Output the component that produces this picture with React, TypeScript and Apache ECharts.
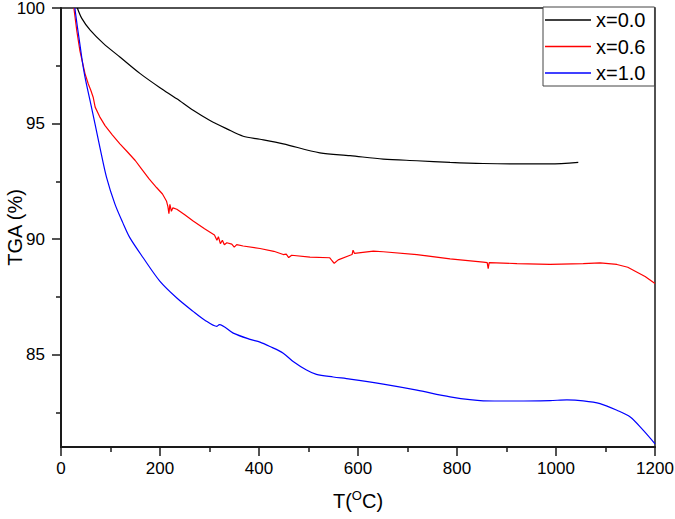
import { useEffect, useRef } from "react";
import * as echarts from "echarts";

const seriesNames = ["x=0.0", "x=0.6", "x=1.0"];
const seriesColors = ["#000000", "#ff0000", "#0000ff"];
const seriesSmooth = [0.3, 0, 0.3];

const yMajorTicks = [85, 90, 95, 100];
const yMinorTicks = [82.5, 87.5, 92.5, 97.5];

const tempBlack = [33, 42, 59, 86, 119, 160, 200, 234, 267, 301, 335, 368, 402, 449, 523, 584, 651, 719, 786, 853, 921, 988, 1045];
const tgaBlack = [100, 99.55, 99.04, 98.46, 97.88, 97.16, 96.55, 96.07, 95.57, 95.13, 94.77, 94.45, 94.32, 94.12, 93.73, 93.61, 93.46, 93.39, 93.32, 93.27, 93.25, 93.25, 93.32];

const tempRed = [26, 32, 38, 48.5, 55, 60, 65, 69, 78, 89, 104, 119, 133, 150, 163, 178, 193, 205, 213, 216, 218, 220, 223, 226, 234, 250, 267, 290, 310, 315, 318, 322, 326, 330, 335, 345, 350, 355, 368, 402, 430, 449, 455, 460, 466, 503, 543, 548, 552, 560, 584, 588, 590, 593, 631, 651, 719, 786, 853, 861, 863, 865, 921, 988, 1055, 1089, 1123, 1145, 1160, 1180, 1200];
const tgaRed = [100, 99.0, 98.17, 97.16, 96.72, 96.45, 96.14, 95.71, 95.3, 94.91, 94.5, 94.12, 93.8, 93.4, 93.03, 92.6, 92.23, 91.95, 91.65, 91.4, 91.1, 91.5, 91.2, 91.35, 91.29, 91.05, 90.78, 90.45, 90.18, 89.95, 90.1, 89.8, 89.95, 89.75, 89.84, 89.78, 89.65, 89.76, 89.7, 89.59, 89.47, 89.33, 89.35, 89.2, 89.3, 89.22, 89.19, 89.05, 88.95, 89.1, 89.3, 89.33, 89.52, 89.38, 89.48, 89.45, 89.33, 89.14, 89.0, 88.98, 88.72, 88.98, 88.94, 88.9, 88.94, 88.97, 88.9, 88.78, 88.61, 88.38, 88.08];

const tempBlue = [28, 33, 38, 43, 48.5, 58.6, 68.7, 78.8, 92, 109, 125, 139, 166, 200, 234, 267, 290, 315, 320, 348, 382, 402, 422, 449, 469, 496, 516, 550, 584, 651, 719, 786, 853, 921, 988, 1022, 1055, 1089, 1123, 1150, 1176, 1200];
const tgaBlue = [100, 99.2, 98.46, 97.7, 97.01, 96.0, 94.99, 93.95, 92.67, 91.51, 90.7, 90.06, 89.19, 88.17, 87.45, 86.87, 86.5, 86.22, 86.3, 85.93, 85.66, 85.54, 85.35, 85.06, 84.7, 84.33, 84.14, 84.03, 83.94, 83.72, 83.46, 83.17, 83.0, 82.99, 83.01, 83.04, 83.0, 82.88, 82.59, 82.3, 81.73, 81.14];

const zip = (xs: number[], ys: number[]) => xs.map((x, i) => [x, ys[i]]);

const FONT = "'Liberation Sans', Arial, sans-serif";
const AXIS_COLOR = "#1a1a1a";

export default function App() {
  const ref = useRef<HTMLDivElement>(null);
  useEffect(() => {
    const chart = echarts.init(ref.current!, null, { renderer: "svg" });
    const datasets = [zip(tempBlack, tgaBlack), zip(tempRed, tgaRed), zip(tempBlue, tgaBlue)];
    chart.setOption({
      animation: false,
      backgroundColor: "#ffffff",
      grid: {
        left: 61,
        right: 20,
        top: 8,
        bottom: 72,
        containLabel: false,
        outerBoundsMode: "none",
        show: true,
        borderColor: AXIS_COLOR,
        borderWidth: 1.5,
        backgroundColor: "transparent",
      },
      legend: {
        data: seriesNames.map((name, i) => ({ name, icon: "rect", itemStyle: { color: seriesColors[i] } })),
        orient: "vertical",
        left: 543,
        top: 7,
        itemWidth: 46,
        itemHeight: 1.3,
        itemGap: 6.5,
        padding: [3, 9, 3, 2],
        borderColor: "#444",
        borderWidth: 1,
        backgroundColor: "#ffffff",
        textStyle: { fontSize: 20, fontFamily: FONT, color: "#000", lineHeight: 20 },
      },
      xAxis: {
        type: "value",
        min: 0,
        max: 1200,
        interval: 200,
        name: "T({sup|O}C)",
        nameLocation: "middle",
        nameGap: 42,
        nameMoveOverlap: false,
        nameTextStyle: {
          fontSize: 20,
          fontFamily: FONT,
          color: "#000",
          rich: {
            sup: { fontSize: 13, fontFamily: FONT, color: "#000", padding: [0, 0, 11, 0] },
          },
        },
        axisLine: { show: true, lineStyle: { color: AXIS_COLOR, width: 2 } },
        axisTick: { show: true, length: 9, lineStyle: { color: AXIS_COLOR, width: 1.5 } },
        minorTick: { show: true, splitNumber: 2, length: 5, lineStyle: { color: AXIS_COLOR, width: 1.5 } },
        splitLine: { show: false },
        minorSplitLine: { show: false },
        axisLabel: { fontSize: 17, fontFamily: FONT, color: "#000", margin: 13, formatter: (v: number) => String(v) },
      },
      yAxis: [
        {
          type: "value",
          min: 81,
          max: 100,
          position: "left",
          name: "TGA (%)",
          nameLocation: "middle",
          nameGap: 36,
          nameMoveOverlap: false,
          nameTextStyle: { fontSize: 20, fontFamily: FONT, color: "#000" },
          axisLine: { show: true, lineStyle: { color: AXIS_COLOR, width: 2 } },
          axisTick: { show: true, length: 9, customValues: yMajorTicks, lineStyle: { color: AXIS_COLOR, width: 1.5 } },
          axisLabel: { customValues: yMajorTicks, fontSize: 17, fontFamily: FONT, color: "#000", margin: 16, formatter: (v: number) => String(v) },
          splitLine: { show: false },
        },
        {
          type: "value",
          min: 81,
          max: 100,
          position: "left",
          offset: 0,
          axisLine: { show: false },
          axisTick: { show: true, length: 5, customValues: yMinorTicks, lineStyle: { color: AXIS_COLOR, width: 1.5 } },
          axisLabel: { show: false },
          splitLine: { show: false },
        },
      ],
      series: seriesNames.map((name, i) => ({
        name,
        type: "line",
        yAxisIndex: 0,
        data: datasets[i],
        symbol: "none",
        showSymbol: false,
        clip: true,
        smooth: seriesSmooth[i],
        lineStyle: { color: seriesColors[i], width: 1.2 },
        itemStyle: { color: seriesColors[i] },
      })),
    });
    return () => chart.dispose();
  }, []);
  return <div ref={ref} style={{ position: "fixed", left: 0, top: 0, width: 675, height: 519 }} />;
}
